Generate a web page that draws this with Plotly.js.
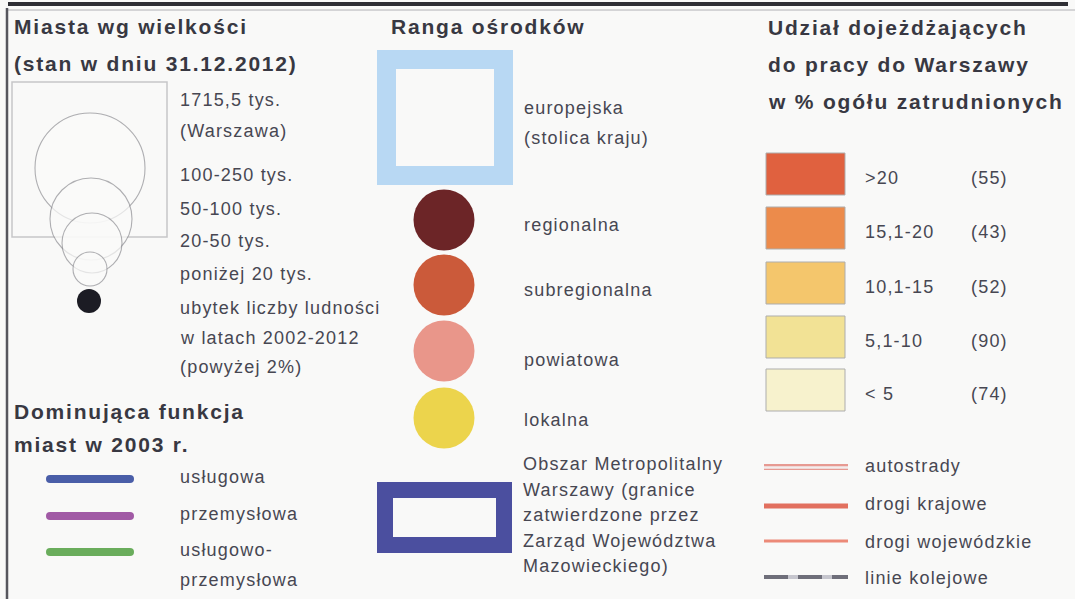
<!DOCTYPE html>
<html>
<head>
<meta charset="utf-8">
<script src="https://cdn.plot.ly/plotly-3.0.1.min.js"></script>
<style>
  body { margin: 0; background: #f9f9f8; }
  #chart { width: 1075px; height: 599px; }
</style>
</head>
<body>
<div id="chart"></div>
<script>
// ---- legend content ----
const sizeTitle = ['Miasta wg wielkości', '(stan w dniu 31.12.2012)'];
const sizeLabels = ['1715,5 tys.', '(Warszawa)', '100-250 tys.', '50-100 tys.', '20-50 tys.',
  'poniżej 20 tys.', 'ubytek liczby ludności', 'w latach 2002-2012', '(powyżej 2%)'];

const functionTitle = ['Dominująca funkcja', 'miast w 2003 r.'];
const functionLabels = ['usługowa', 'przemysłowa', 'usługowo-', 'przemysłowa'];

const rankTitle = ['Ranga ośrodków'];
const rankLabels = ['regionalna', 'subregionalna', 'powiatowa', 'lokalna'];
const capitalLabel = ['europejska', '(stolica kraju)'];
const metroLabel = ['Obszar Metropolitalny', 'Warszawy (granice', 'zatwierdzone przez',
  'Zarząd Województwa', 'Mazowieckiego)'];

const shareTitle = ['Udział dojeżdżających', 'do pracy do Warszawy', 'w % ogółu zatrudnionych'];
const shareClasses = ['>20', '15,1-20', '10,1-15', '5,1-10', '< 5'];
const shareCounts = [55, 43, 52, 90, 74];

const roadLabels = ['autostrady', 'drogi krajowe', 'drogi wojewódzkie', 'linie kolejowe'];

// ---- styles ----
const W = 1075, H = 599;
const ink = '#383842', inkSoft = '#474752';
const fontFam = 'Liberation Sans, Arial, sans-serif';
const functionColors = ['#4a5ea8', '#a15aa5', '#6aad5c'];
const rankColors = ['#6c2527', '#cb5a3a', '#e9968a', '#ecd44c'];
const shareColors = ['#e0613f', '#ec8b4b', '#f4c66c', '#f2e295', '#f7f2cd'];

const traces = [];
const shapes = [];
const notes = [];
const spacing = [];

function text(x, y, t, bold) {
  notes.push({
    x: x, y: y, xref: 'x', yref: 'y', text: t, showarrow: false,
    xanchor: 'left', yanchor: 'middle', align: 'left', borderpad: 0, borderwidth: 0,
    font: { family: fontFam, size: bold ? 21 : 18, color: bold ? ink : inkSoft, weight: bold ? 700 : 400 }
  });
  spacing.push(bold ? '1.8px' : '1.2px');
}

// frame
shapes.push({ type: 'line', x0: 8, x1: 1068, y0: 4, y1: 4, line: { color: '#2e2e34', width: 4 } });
shapes.push({ type: 'line', x0: 8, x1: W, y0: 10, y1: 10, line: { color: '#b0b0b4', width: 1 } });
shapes.push({ type: 'line', x0: 7, x1: 7, y0: 8, y1: H, line: { color: '#56565d', width: 2.5 } });

// --- column 1: city size ---
sizeTitle.forEach((t, i) => text(14, [26, 63][i], t, true));
shapes.push({ type: 'rect', x0: 12, x1: 167, y0: 82, y1: 237, layer: 'below',
  line: { color: '#c6c6c8', width: 1.5 } });
traces.push({
  x: [90, 91, 92, 90], y: [168, 219, 243, 269], mode: 'markers', hoverinfo: 'skip',
  marker: { size: [110, 82, 60, 34], color: '#fbfbfa', line: { color: '#8f8f94', width: 1.1 } }
});
traces.push({
  x: [89], y: [301], mode: 'markers', hoverinfo: 'skip',
  marker: { size: 24, color: '#1c1c24' }
});
const sizeY = [100, 131, 175, 209, 241, 274, 308, 338, 367];
sizeLabels.forEach((t, i) => text(180, sizeY[i], t, false));

functionTitle.forEach((t, i) => text(14, [411, 444][i], t, true));
[479, 516, 552].forEach((y, i) => {
  traces.push({
    x: [50, 130], y: [y, y], mode: 'lines+markers', hoverinfo: 'skip',
    line: { color: functionColors[i], width: 8 },
    marker: { size: 8, color: functionColors[i] }
  });
});
const functionY = [477, 514, 550, 580];
functionLabels.forEach((t, i) => text(180, functionY[i], t, false));

// --- column 2: rank ---
rankTitle.forEach(t => text(391, 26, t, true));
shapes.push({ type: 'rect', x0: 386.5, x1: 503.5, y0: 59.5, y1: 175.5,
  line: { color: '#b8d8f3', width: 19 } });
capitalLabel.forEach((t, i) => text(524, [108, 138][i], t, false));

const rankY = [220, 285, 351, 418];
traces.push({
  x: rankY.map(() => 444), y: rankY, mode: 'markers', hoverinfo: 'skip',
  marker: { size: 61, color: rankColors }
});
const rankLabelY = [225, 290, 360, 420];
rankLabels.forEach((t, i) => text(524, rankLabelY[i], t, false));

shapes.push({ type: 'rect', x0: 385, x1: 504, y0: 490, y1: 545,
  line: { color: '#4b4f9f', width: 16 } });
metroLabel.forEach((t, i) => text(523, 464 + i * 25.5, t, false));

// --- column 3: commuting share ---
shareTitle.forEach((t, i) => text(768, [27, 64, 101][i], t, true));
const boxTop = [153, 207, 262, 316, 369];
shareClasses.forEach((c, i) => {
  shapes.push({ type: 'rect', x0: 766, x1: 845, y0: boxTop[i], y1: boxTop[i] + 42,
    fillcolor: shareColors[i], line: { color: '#adadad', width: 1 } });
  text(865, boxTop[i] + 25, c, false);
  text(971, boxTop[i] + 25, '(' + shareCounts[i] + ')', false);
});

const roadY = [467, 506, 541, 577];
const roadX = [764, 848];
traces.push({ x: roadX, y: [roadY[0], roadY[0]], mode: 'lines', hoverinfo: 'skip',
  line: { color: '#e79a92', width: 6 } });
traces.push({ x: roadX, y: [roadY[0] + 0.5, roadY[0] + 0.5], mode: 'lines', hoverinfo: 'skip',
  line: { color: '#f3eded', width: 2.5 } });
traces.push({ x: roadX, y: [roadY[1], roadY[1]], mode: 'lines', hoverinfo: 'skip',
  line: { color: '#e2705f', width: 5 } });
traces.push({ x: roadX, y: [roadY[2], roadY[2]], mode: 'lines', hoverinfo: 'skip',
  line: { color: '#ec8a78', width: 3 } });
traces.push({ x: roadX, y: [roadY[3], roadY[3]], mode: 'lines', hoverinfo: 'skip',
  line: { color: '#c6c6ce', width: 4 } });
traces.push({ x: roadX, y: [roadY[3], roadY[3]], mode: 'lines', hoverinfo: 'skip',
  line: { color: '#6f6f7a', width: 4, dash: '24px,10px' } });
const roadLabelY = [466, 504, 542, 578];
roadLabels.forEach((t, i) => text(865, roadLabelY[i], t, false));

const layout = {
  width: W, height: H,
  margin: { l: 0, r: 0, t: 0, b: 0 },
  paper_bgcolor: '#f9f9f8', plot_bgcolor: '#f9f9f8',
  showlegend: false,
  xaxis: { range: [0, W], visible: false, fixedrange: true },
  yaxis: { range: [H, 0], visible: false, fixedrange: true },
  shapes: shapes,
  annotations: notes
};

Plotly.newPlot('chart', traces, layout, { staticPlot: true, displayModeBar: false }).then(gd => {
  gd.querySelectorAll('.annotation').forEach(g => {
    const i = +g.getAttribute('data-index');
    const t = g.querySelector('.annotation-text');
    if (t) t.style.letterSpacing = spacing[i];
  });
});
</script>
</body>
</html>
